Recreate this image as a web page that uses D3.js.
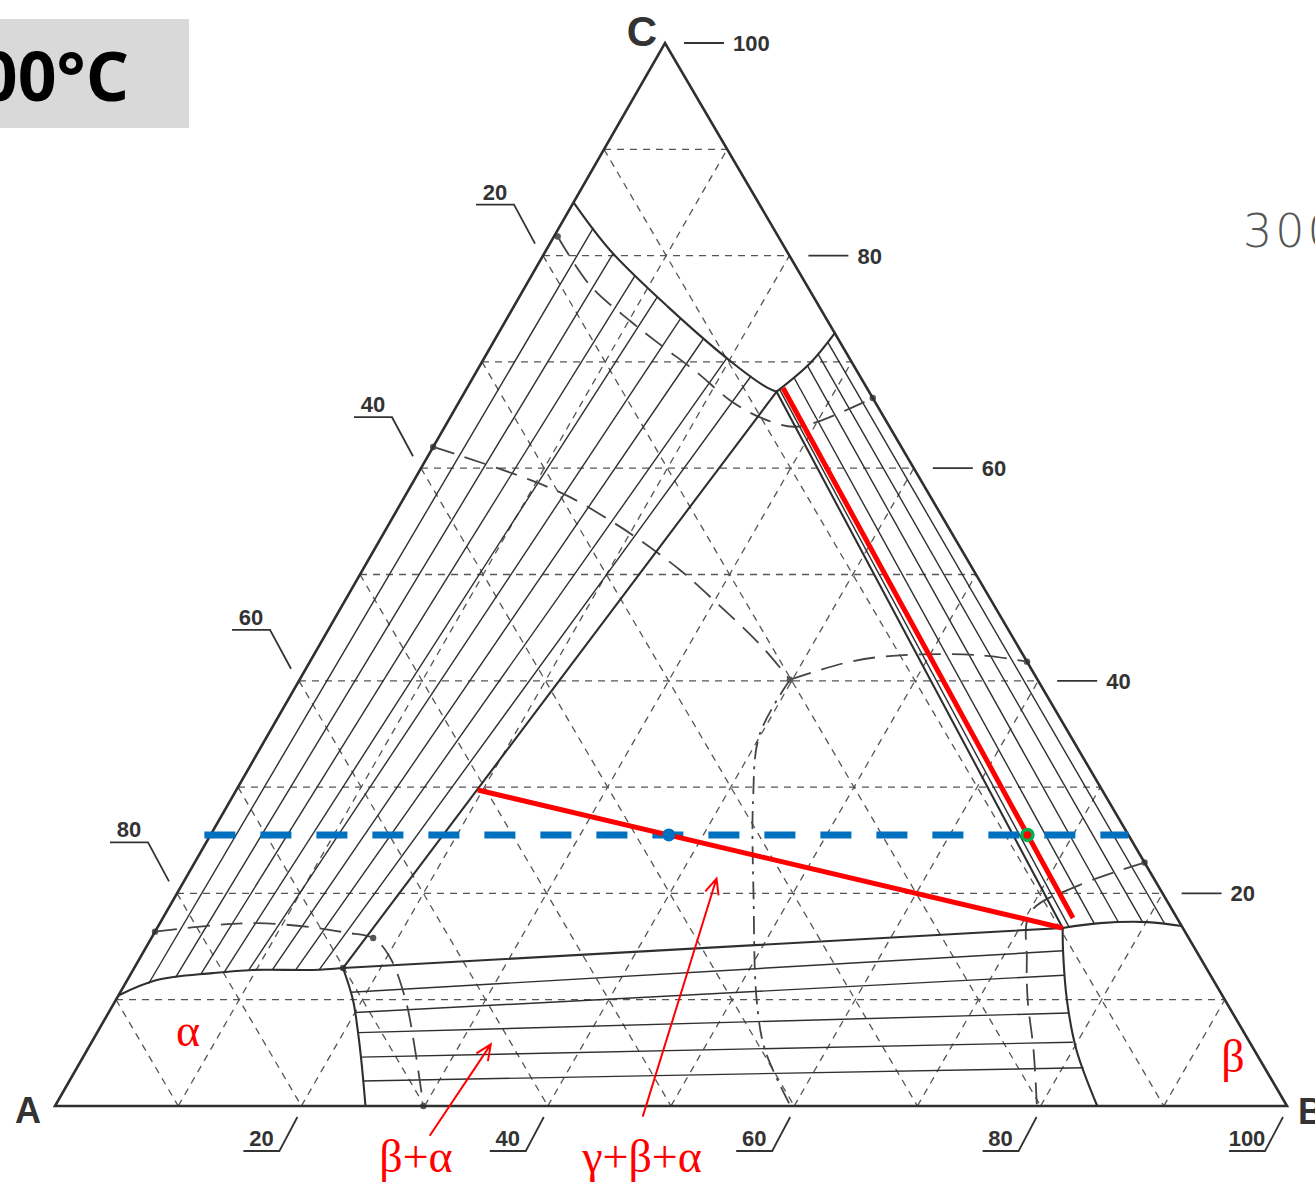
<!DOCTYPE html>
<html><head><meta charset="utf-8">
<script src="https://cdn.jsdelivr.net/npm/d3@7"></script>
<style>html,body{margin:0;padding:0;background:#fff;} svg{display:block}</style>
</head><body>
<svg id="chart" width="1315" height="1185"></svg>
<script>
// Isothermal section of the A-B-C system. Compositions are [B %, C %]; A % = 100 - B - C.
const titleText = "300°C";
const noteText = "300";
const vertexNames = ["A", "B", "C"];
const gridTicks = [10, 20, 30, 40, 50, 60, 70, 80, 90];
const sideTicksBC = [20, 40, 60, 80, 100];   // C % along B-C side
const sideTicksAB = [20, 40, 60, 80, 100];   // B % along A-B side
const sideTicksAC = [20, 40, 60, 80];        // A % along A-C side

// single-phase boundaries
const alphaTopBoundary   = [[0, 10.4], [2.4, 11.85], [6.6, 12.5], [9.7, 12.8], [14.6, 12.8], [16.95, 12.98]];
const alphaSideBoundary  = [[16.95, 12.98], [19.25, 9.97], [21.2, 6.87], [23.1, 3.67], [25.2, 0]];
const betaTopBoundary    = [[73.5, 16.75], [76.3, 17.2], [80.1, 17.3], [83.07, 16.93]];
const betaSideBoundary   = [[73.5, 16.75], [74.55, 14.68], [77.2, 9.97], [80.3, 5.27], [84.6, 0]];
const gammaLeftBoundary  = [[0, 85], [5.2, 80.5], [12.5, 75.2], [20.4, 69.9], [24.3, 67.6], [25.3, 67.2]];
const gammaRightBoundary = [[25.3, 67.2], [26.7, 69.9], [27.3, 72.7]];
// alpha, beta, gamma corners of the three-phase triangle
const threePhaseCorners  = [[16.95, 12.98], [73.5, 16.75], [25.3, 67.2]];

// tie lines [b1, c1, b2, c2]
const alphaBetaTies = [
  [18.7, 10.7, 74.6, 14.6],
  [20.0, 8.8, 75.8, 12.3],
  [21.2, 6.9, 77.9, 8.75],
  [22.5, 4.6, 79.65, 6.0],
  [23.8, 2.35, 81.7, 3.6]
];
const alphaGammaTies = [
  [1.9, 11.5, 2.8, 82.6],
  [3.8, 12.1, 5.6, 80.2],
  [5.7, 12.4, 8.4, 78.1],
  [7.5, 12.6, 11.2, 76.1],
  [9.4, 12.8, 14.1, 74.1],
  [11.3, 12.8, 16.9, 72.2],
  [13.2, 12.8, 19.7, 70.4],
  [15.1, 12.8, 22.5, 68.7]
];
const betaGammaTies = [
  [73.98, 16.83, 25.37, 67.48],
  [75.89, 17.13, 26.0, 68.58],
  [77.8, 17.24, 26.56, 69.68],
  [79.72, 17.29, 26.87, 70.78],
  [81.63, 17.1, 27.12, 71.88]
];

// dashed construction curves
const upperCurve = [[0.3, 81.8], [5.2, 77.2], [10.2, 73.8], [13.7, 71.6], [17.8, 69.1], [21.9, 66.4], [25.1, 64.8], [28.3, 63.9], [30.0, 64.35], [33.4, 66.6]];
const middleLeftCurve = [[0, 62], [2.55, 61.2], [9.4, 58.9], [13.4, 57.3], [17.75, 55.1], [21.1, 53.25], [25.8, 50.4], [30.6, 47.1], [35.75, 43.4], [39.8, 40.1]];
const middleRightCurve = [[39.8, 40.1], [43.85, 41.8], [47.6, 42.4], [54.1, 42.4], [58.2, 41.8]];
const middleDownCurve = [[39.8, 40.1], [39.9, 34.9], [42.4, 28.8], [47.1, 19.4], [52.0, 10.0], [55.0, 5.3], [59.7, 0]];
const lowerLeftCurve = [[0, 16.4], [4.4, 17.0], [7.9, 17.2], [12.6, 16.8], [15.6, 16.3], [18.0, 15.8], [20.25, 14.0], [23.5, 10.0], [26.6, 5.3], [29.9, 0]];
const lowerRightCurve = [[77.1, 22.9], [72.9, 20.8], [70.15, 18.2], [72.1, 13.7], [74.0, 10.0], [76.8, 5.3], [79.7, 0]];
const curveDots = [[0.3, 81.8], [33.4, 66.6], [0, 62], [39.8, 40.1], [58.2, 41.8], [0, 16.4], [18.0, 15.8], [29.9, 0], [77.1, 22.9], [16.95, 12.98]];

// worked example: alloy at C = 25.5 %
const exampleLevelC = 25.5;
const exampleLevelB = [-0.5, 74.5];
const exampleAlloy = [37.2, 25.5];
const exampleTieToBeta = [[19.6, 29.73], [73.5, 16.75]];
const exampleTieBetaGamma = [[25.65, 67.55], [73.87, 17.69]];
const exampleOnTie = [66.3, 25.5];
const phaseLabels = ["α", "β", "β+α", "γ+β+α"];

// ---- projection built from linear scales ----
const xB = d3.scaleLinear().domain([0, 100]).range([55, 1287]);
const xC = d3.scaleLinear().domain([0, 100]).range([0, 610]);
const yC = d3.scaleLinear().domain([0, 100]).range([1106, 43]);
const P = ([b, c]) => [xB(b) + xC(c), yC(c)];

const svg = d3.select("#chart");
const smooth = d3.line().curve(d3.curveCatmullRom.alpha(0.5));
const straight = d3.line();
const ink = "#2f2f2f";

// title
svg.append("rect").attr("x", -10).attr("y", 19).attr("width", 199).attr("height", 109).attr("fill", "#d9d9d9");
svg.append("text").attr("x", 129).attr("y", 101).attr("text-anchor", "end")
  .attr("font-family", "'Open Sans', 'Noto Sans', sans-serif").attr("font-weight", 700)
  .attr("font-size", 68).attr("fill", "#000").text(titleText);
svg.append("text").attr("x", 1243).attr("y", 247)
  .attr("font-family", "'DejaVu Sans ExtraLight', 'DejaVu Sans', sans-serif").attr("font-weight", 200)
  .attr("font-size", 46).attr("letter-spacing", 3).attr("fill", "#555").text(noteText);

// ---- grid (dashed, every 10 %) ----
const grid = svg.append("g").attr("stroke", "#555").attr("stroke-width", 1.3)
  .attr("stroke-dasharray", "7,6").attr("fill", "none");
gridTicks.forEach(k => {
  grid.append("path").attr("d", straight([P([0, k]), P([100 - k, k])]));          // C = k
  grid.append("path").attr("d", straight([P([k, 0]), P([k, 100 - k])]));          // B = k
  grid.append("path").attr("d", straight([P([0, 100 - k]), P([100 - k, 0])]));    // A = k
});

// ---- tie lines ----
const ties = svg.append("g").attr("stroke", ink).attr("stroke-width", 1.4).attr("fill", "none");
[alphaBetaTies, alphaGammaTies, betaGammaTies].forEach(set => set.forEach(t => {
  ties.append("path").attr("d", straight([P([t[0], t[1]]), P([t[2], t[3]])]));
}));

// ---- construction curves ----
const cons = svg.append("g").attr("stroke", "#444").attr("stroke-width", 1.8).attr("fill", "none");
[upperCurve, middleLeftCurve, middleRightCurve, lowerLeftCurve, lowerRightCurve].forEach(cv => {
  cons.append("path").attr("d", smooth(cv.map(P))).attr("stroke-dasharray", "22,11");
});
cons.append("path").attr("d", smooth(middleDownCurve.map(P))).attr("stroke-dasharray", "18,7,3,7");
svg.append("g").attr("fill", "#555").selectAll("circle").data(curveDots).join("circle")
  .attr("cx", d => P(d)[0]).attr("cy", d => P(d)[1]).attr("r", 3.2);

// ---- phase boundaries ----
const bnd = svg.append("g").attr("stroke", ink).attr("stroke-width", 2.1).attr("fill", "none");
[alphaTopBoundary, alphaSideBoundary, betaTopBoundary, betaSideBoundary, gammaLeftBoundary, gammaRightBoundary]
  .forEach(cv => bnd.append("path").attr("d", smooth(cv.map(P))));
bnd.append("path").attr("d", straight(threePhaseCorners.map(P)) + "Z");

// ---- triangle frame ----
const corners = [[0, 0], [100, 0], [0, 100]];
svg.append("path").attr("d", straight(corners.map(P)) + "Z")
  .attr("fill", "none").attr("stroke", ink).attr("stroke-width", 2.6).attr("stroke-linejoin", "miter");

// ---- side scales ----
const lab = svg.append("g").attr("font-family", "'Liberation Sans', Arial, sans-serif")
  .attr("font-weight", 700).attr("font-size", 22).attr("fill", "#333");
const tk = svg.append("g").attr("stroke", "#333").attr("stroke-width", 1.8).attr("fill", "none");
sideTicksBC.forEach(v => {
  const [x, y] = P([100 - v, v]);
  tk.append("path").attr("d", straight([[x + 19, y], [x + 59, y]]));
  lab.append("text").attr("x", x + 68).attr("y", y + 8).text(v);
});
sideTicksAB.forEach(v => {
  const [x, y] = P([v, 0]);
  tk.append("path").attr("d", straight([[x - 58, y + 45], [x - 22, y + 45], [x - 4, y + 11]]));
  lab.append("text").attr("x", x - 40).attr("y", y + 40).attr("text-anchor", "middle").text(v);
});
sideTicksAC.forEach(v => {
  const [x, y] = P([0, 100 - v]);
  tk.append("path").attr("d", straight([[x - 67, y - 51], [x - 29, y - 51], [x - 8, y - 12]]));
  lab.append("text").attr("x", x - 48).attr("y", y - 56).attr("text-anchor", "middle").text(v);
});

// vertex names
const vx = svg.append("g").attr("font-family", "'Liberation Sans', Arial, sans-serif")
  .attr("font-weight", 700).attr("fill", "#333");
const [ax, ay] = P(corners[0]), [bx, by] = P(corners[1]), [cx, cy] = P(corners[2]);
vx.append("text").attr("x", ax - 27).attr("y", ay + 17).attr("text-anchor", "middle").attr("font-size", 36).text(vertexNames[0]);
vx.append("text").attr("x", bx + 11).attr("y", by + 18).attr("font-size", 36).text(vertexNames[1]);
vx.append("text").attr("x", cx - 23).attr("y", cy + 3).attr("text-anchor", "middle").attr("font-size", 42).text(vertexNames[2]);

// ---- worked example overlay ----
svg.append("path").attr("d", straight([P([exampleLevelB[0], exampleLevelC]), P([exampleLevelB[1], exampleLevelC])]))
  .attr("stroke", "#0070c0").attr("stroke-width", 7).attr("stroke-dasharray", "31,25").attr("fill", "none");
svg.append("path").attr("d", straight(exampleTieToBeta.map(P)))
  .attr("stroke", "#ff0000").attr("stroke-width", 5).attr("fill", "none");
svg.append("path").attr("d", straight(exampleTieBetaGamma.map(P)))
  .attr("stroke", "#ff0000").attr("stroke-width", 5).attr("fill", "none");
svg.append("circle").attr("cx", P(exampleAlloy)[0]).attr("cy", P(exampleAlloy)[1]).attr("r", 6.5).attr("fill", "#0070c0");
svg.append("circle").attr("cx", P(exampleOnTie)[0]).attr("cy", P(exampleOnTie)[1]).attr("r", 5.5)
  .attr("fill", "#ff0000").attr("stroke", "#00b050").attr("stroke-width", 3.5);
svg.append("circle").attr("cx", P(exampleOnTie)[0]).attr("cy", P(exampleOnTie)[1]).attr("r", 1.8).attr("fill", "#ff0000");

// phase labels and pointers
const red = svg.append("g").attr("fill", "#ff0000").attr("font-family", "'Liberation Serif', 'DejaVu Serif', serif").attr("font-size", 46);
red.append("text").attr("x", 188).attr("y", 1046).attr("text-anchor", "middle").text(phaseLabels[0]);
red.append("text").attr("x", 1233).attr("y", 1072).attr("text-anchor", "middle").text(phaseLabels[1]);
red.append("text").attr("x", 416).attr("y", 1172).attr("text-anchor", "middle").text(phaseLabels[2]);
red.append("text").attr("x", 642).attr("y", 1172).attr("text-anchor", "middle").text(phaseLabels[3]);

function pointer(from, to) {
  const [x1, y1] = P(from), [x2, y2] = P(to);
  const a = Math.atan2(y2 - y1, x2 - x1), L = 17, s = 0.42;
  const d = `M${x1},${y1}L${x2},${y2}M${x2 - L * Math.cos(a - s)},${y2 - L * Math.sin(a - s)}L${x2},${y2}L${x2 - L * Math.cos(a + s)},${y2 - L * Math.sin(a + s)}`;
  svg.append("path").attr("d", d).attr("stroke", "#ff0000").attr("stroke-width", 2).attr("fill", "none");
}
// pointer tips sit inside the beta+alpha and gamma+beta+alpha fields
pointer([31.8, -2.8], [32.5, 5.8]);
pointer([48.2, -1.0], [43.1, 21.4]);
</script>
</body></html>
